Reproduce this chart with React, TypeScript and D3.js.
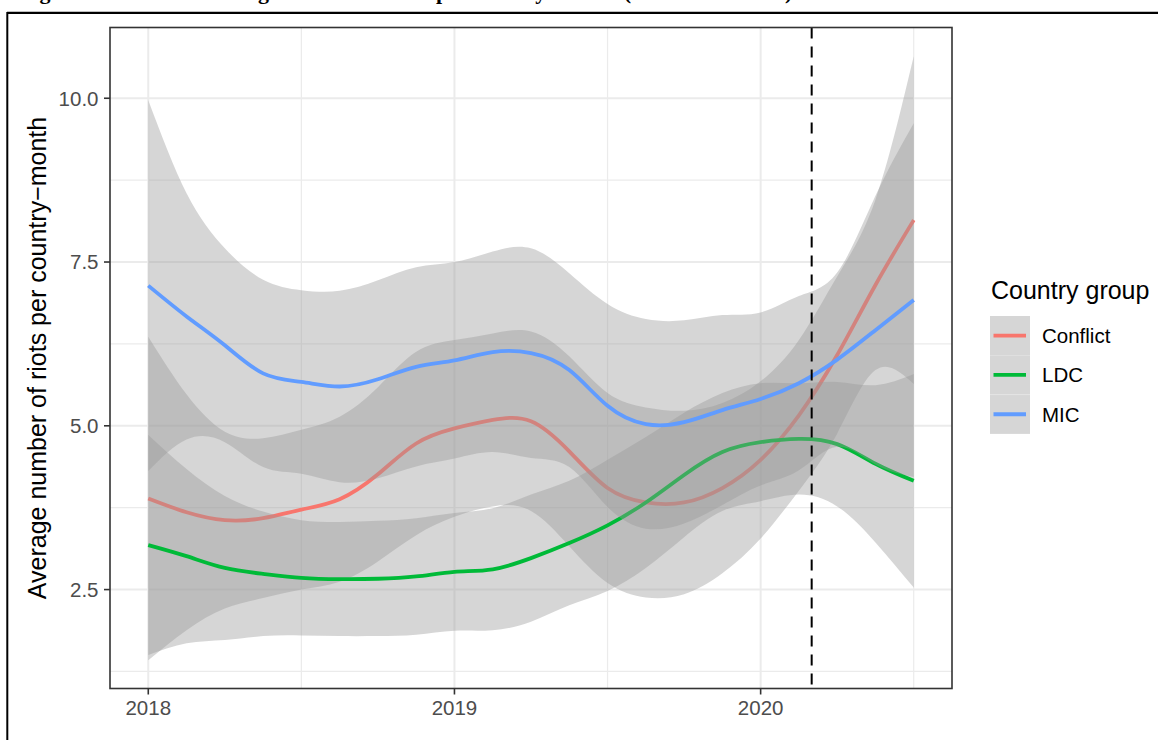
import React from 'react';
import * as d3 from 'd3';

// ---- data (decimal years, smoothed fits with confidence bands) ----
const xYears = [2018.0, 2018.125, 2018.25, 2018.375, 2018.5, 2018.625, 2018.75, 2018.875, 2019.0, 2019.125, 2019.25, 2019.375, 2019.5, 2019.625, 2019.75, 2019.875, 2020.0, 2020.125, 2020.25, 2020.375, 2020.5];

const conflictFit = [3.89, 3.68, 3.56, 3.59, 3.72, 3.88, 4.26, 4.73, 4.96, 5.09, 5.07, 4.61, 4.05, 3.83, 3.83, 4.05, 4.48, 5.16, 6.08, 7.15, 8.14];
const conflictUpper = [6.36, 5.48, 4.91, 4.81, 4.94, 5.14, 5.59, 6.13, 6.31, 6.41, 6.44, 6.06, 5.50, 5.28, 5.23, 5.35, 5.68, 6.31, 7.28, 8.45, 10.64];
const conflictLower = [1.42, 1.88, 2.21, 2.37, 2.50, 2.62, 2.93, 3.33, 3.61, 3.77, 3.70, 3.16, 2.60, 2.38, 2.43, 2.75, 3.28, 4.01, 4.88, 5.85, 5.64];

const ldcFit = [3.18, 3.01, 2.83, 2.74, 2.68, 2.66, 2.665, 2.70, 2.77, 2.81, 2.98, 3.21, 3.48, 3.83, 4.25, 4.60, 4.75, 4.80, 4.72, 4.42, 4.16];
const ldcUpper = [4.86, 4.34, 3.93, 3.69, 3.56, 3.53, 3.55, 3.59, 3.67, 3.74, 3.95, 4.16, 4.48, 4.83, 5.20, 5.50, 5.65, 5.65, 5.67, 5.62, 5.79];
const ldcLower = [1.50, 1.68, 1.73, 1.79, 1.80, 1.79, 1.79, 1.81, 1.87, 1.88, 2.01, 2.26, 2.48, 2.83, 3.30, 3.70, 3.85, 3.95, 3.77, 3.22, 2.53];

const micFit = [7.14, 6.67, 6.23, 5.80, 5.67, 5.60, 5.71, 5.90, 6.00, 6.125, 6.11, 5.85, 5.305, 5.025, 5.055, 5.24, 5.41, 5.65, 6.01, 6.46, 6.92];
const micUpper = [9.97, 8.55, 7.71, 7.23, 7.07, 7.06, 7.22, 7.42, 7.50, 7.66, 7.71, 7.33, 6.86, 6.63, 6.61, 6.69, 6.73, 6.98, 7.34, 8.51, 9.62];
const micLower = [4.31, 4.79, 4.75, 4.37, 4.27, 4.14, 4.20, 4.38, 4.50, 4.60, 4.51, 4.37, 3.76, 3.43, 3.51, 3.79, 4.09, 4.32, 4.68, 4.41, 4.22];

const groupNames = ['Conflict', 'LDC', 'MIC'];
const groupColors = ['#F8766D', '#00BA38', '#619CFF'];

const xTickValues = [2018, 2019, 2020];
const xTickLabels = ['2018', '2019', '2020'];
const xMinorValues = [2018.5, 2019.5, 2020.5];
const yTickValues = [2.5, 5.0, 7.5, 10.0];
const yTickLabels = ['2.5', '5.0', '7.5', '10.0'];
const yMinorValues = [1.25, 3.75, 6.25, 8.75];
const policyLine = 2020.1667;

const titleText = 'Figure 4: Trends in average number of riots per country\u2013month (2018 \u2013 mid-2020)';
const yAxisTitle = 'Average number of riots per country\u2212month';
const legendTitle = 'Country group';

// ---- layout ----
const W = 1158;
const H = 740;
const P = { left: 110, right: 952, top: 27.5, bottom: 688.5 };
const SANS = "'Liberation Sans', Arial, Helvetica, sans-serif";

export default function App() {
  const x = d3.scaleLinear().domain([2017.875, 2020.625]).range([P.left, P.right]);
  const y = d3.scaleLinear().domain([0.99, 11.08]).range([P.bottom, P.top]);

  const series = [
    { fit: conflictFit, lo: conflictLower, hi: conflictUpper },
    { fit: ldcFit, lo: ldcLower, hi: ldcUpper },
    { fit: micFit, lo: micLower, hi: micUpper },
  ];

  const curve = d3.curveNatural;

  const line = d3
    .line<number>()
    .x((_, i) => x(xYears[i]))
    .y((d) => y(d))
    .curve(curve);

  const ribbonPath = (lo: number[], hi: number[]) => {
    const a = d3
      .area<number>()
      .x((_, i) => x(xYears[i]))
      .y0((_, i) => y(lo[i]))
      .y1((_, i) => y(hi[i]))
      .curve(curve);
    return a(lo) || '';
  };

  const keyTop = 316;
  const keyH = 39.3;

  return (
    <svg
      width={W}
      height={H}
      style={{ position: 'absolute', left: 0, top: 0, background: '#fff' }}
      xmlns="http://www.w3.org/2000/svg"
    >
      <rect x={0} y={0} width={W} height={H} fill="#ffffff" />
      {/* page title (cut off at the top of the page, as in the source) */}
      <text
        x={20}
        y={-1}
        fontFamily="'Liberation Serif', 'Times New Roman', serif"
        fontWeight="bold"
        fontSize={22}
        fill="#000"
      >
        {titleText}
      </text>
      {/* outer frame */}
      <line x1={7} y1={12.8} x2={W} y2={12.8} stroke="#000" strokeWidth={2.3} />
      <line x1={7.3} y1={12} x2={7.3} y2={H} stroke="#000" strokeWidth={2} />

      {/* panel */}
      <rect x={P.left} y={P.top} width={P.right - P.left} height={P.bottom - P.top} fill="#fff" />
      <g>
        {xMinorValues.map((v) => (
          <line key={'xm' + v} x1={x(v)} x2={x(v)} y1={P.top} y2={P.bottom} stroke="#ebebeb" strokeWidth={1.2} />
        ))}
        {yMinorValues.map((v) => (
          <line key={'ym' + v} x1={P.left} x2={P.right} y1={y(v)} y2={y(v)} stroke="#ebebeb" strokeWidth={1.2} />
        ))}
        {xTickValues.map((v) => (
          <line key={'xg' + v} x1={x(v)} x2={x(v)} y1={P.top} y2={P.bottom} stroke="#ebebeb" strokeWidth={2} />
        ))}
        {yTickValues.map((v) => (
          <line key={'yg' + v} x1={P.left} x2={P.right} y1={y(v)} y2={y(v)} stroke="#ebebeb" strokeWidth={2} />
        ))}
      </g>

      {series.map((s, gi) => (
        <g key={groupNames[gi]}>
          <path d={ribbonPath(s.lo, s.hi)} fill="#999999" fillOpacity={0.4} stroke="none" />
          <path d={line(s.fit) || ''} fill="none" stroke={groupColors[gi]} strokeWidth={3.8} strokeLinejoin="round" />
        </g>
      ))}

      <line
        x1={x(policyLine)}
        x2={x(policyLine)}
        y1={P.top}
        y2={P.bottom}
        stroke="#000"
        strokeWidth={2}
        strokeDasharray="11 8"
      />

      <rect
        x={P.left}
        y={P.top}
        width={P.right - P.left}
        height={P.bottom - P.top}
        fill="none"
        stroke="#333333"
        strokeWidth={1.6}
      />

      {/* y axis */}
      {yTickValues.map((v, i) => (
        <g key={'yt' + v}>
          <line x1={P.left - 6} x2={P.left} y1={y(v)} y2={y(v)} stroke="#333333" strokeWidth={1.6} />
          <text
            x={P.left - 11.5}
            y={y(v)}
            dy="0.36em"
            textAnchor="end"
            fontFamily={SANS}
            fontSize={20.5}
            fill="#4d4d4d"
          >
            {yTickLabels[i]}
          </text>
        </g>
      ))}
      {/* x axis */}
      {xTickValues.map((v, i) => (
        <g key={'xt' + v}>
          <line x1={x(v)} x2={x(v)} y1={P.bottom} y2={P.bottom + 6} stroke="#333333" strokeWidth={1.6} />
          <text x={x(v)} y={715} textAnchor="middle" fontFamily={SANS} fontSize={20.5} fill="#4d4d4d">
            {xTickLabels[i]}
          </text>
        </g>
      ))}

      <text
        transform={`translate(45.7, ${(P.top + P.bottom) / 2}) rotate(-90)`}
        textAnchor="middle"
        fontFamily={SANS}
        fontSize={25}
        fill="#000"
      >
        {yAxisTitle}
      </text>

      {/* legend */}
      <text x={991} y={299} fontFamily={SANS} fontSize={25} fill="#000">
        {legendTitle}
      </text>
      {groupNames.map((g, i) => (
        <g key={'lg' + g}>
          <rect x={990} y={keyTop + i * keyH} width={40} height={keyH} fill="#d6d6d6" />
          <line
            x1={993.5}
            x2={1026}
            y1={keyTop + i * keyH + keyH / 2}
            y2={keyTop + i * keyH + keyH / 2}
            stroke={groupColors[i]}
            strokeWidth={3.8}
          />
          <text
            x={1042}
            y={keyTop + i * keyH + keyH / 2}
            dy="0.36em"
            fontFamily={SANS}
            fontSize={20.5}
            fill="#000"
          >
            {g}
          </text>
        </g>
      ))}
      <line x1={990} x2={1030} y1={keyTop + 2 * keyH} y2={keyTop + 2 * keyH} stroke="#e4e4e4" strokeWidth={1} />
    </svg>
  );
}
